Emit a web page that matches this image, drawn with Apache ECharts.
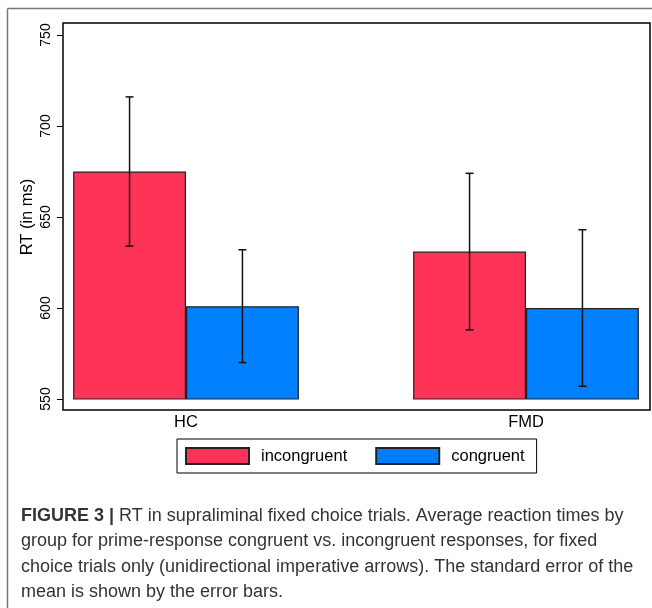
<!DOCTYPE html>
<html>
<head>
<meta charset="utf-8">
<script src="https://cdn.jsdelivr.net/npm/echarts@6/dist/echarts.min.js"></script>
<style>
html,body{margin:0;padding:0;background:#fff;overflow:hidden;width:652px;height:608px;}
#chart{width:700px;height:608px;}
</style>
</head>
<body>
<div id="chart"></div>
<script>
// ---- data ----
var categories = ['HC', 'FMD'];
var seriesNames = ['incongruent', 'congruent'];
var incongruentMean = [675, 631];
var incongruentSE = [41, 43];
var congruentMean = [601, 600];
var congruentSE = [31, 43];
var yTicks = { min: 550, max: 750, interval: 50 };
var caption = [
  'RT in supraliminal fixed choice trials. Average reaction times by',
  'group for prime-response congruent vs. incongruent responses, for fixed',
  'choice trials only (unidirectional imperative arrows). The standard error of the',
  'mean is shown by the error bars.'
];
var captionLabel = 'FIGURE 3 |';

var colors = ['#FF3358', '#0080FF'];
var FONT = 'Liberation Sans, Arial, sans-serif';
var BAR_FRAC = 0.332;

function errorSeries(means, ses, sign) {
  var data = means.map(function (m, i) { return [i, m, ses[i]]; });
  return {
    type: 'custom',
    xAxisIndex: 0, yAxisIndex: 0,
    z: 10,
    silent: true,
    data: data,
    encode: { x: 0, y: 1 },
    renderItem: function (params, api) {
      var ci = api.value(0), m = api.value(1), se = api.value(2);
      var band = api.size([1, 0])[0];
      var off = sign * band * BAR_FRAC / 2;
      var top = api.coord([ci, m + se]);
      var bot = api.coord([ci, m - se]);
      var x = top[0] + off;
      var cap = 4;
      var st = { stroke: '#111', lineWidth: 1.5 };
      return {
        type: 'group',
        children: [
          { type: 'line', shape: { x1: x, y1: top[1], x2: x, y2: bot[1] }, style: st },
          { type: 'line', shape: { x1: x - cap, y1: top[1], x2: x + cap, y2: top[1] }, style: st },
          { type: 'line', shape: { x1: x - cap, y1: bot[1], x2: x + cap, y2: bot[1] }, style: st }
        ]
      };
    }
  };
}

var chart = echarts.init(document.getElementById('chart'), null, { renderer: 'canvas' });
chart.setOption({
  animation: false,
  backgroundColor: '#fff',
  title: {
    left: 16, top: 498,
    text: '{b|' + captionLabel + '} ' + caption.join('\n'),
    textStyle: {
      fontFamily: 'Liberation Sans Narrow, Arial Narrow, Liberation Sans, sans-serif',
      fontSize: 18, fontWeight: 'normal', color: '#333', lineHeight: 25.5,
      rich: {
        b: { fontFamily: 'Liberation Sans Narrow, Arial Narrow, Liberation Sans, sans-serif', fontSize: 18, fontWeight: 'bold', color: '#333', lineHeight: 25.5 }
      }
    }
  },
  graphic: [
    { type: 'line', shape: { x1: 7.5, y1: 8.5, x2: 700, y2: 8.5 }, style: { stroke: '#777', lineWidth: 1.5 } },
    { type: 'line', shape: { x1: 7.5, y1: 8.5, x2: 7.5, y2: 608 }, style: { stroke: '#777', lineWidth: 1.5 } }
  ],
  legend: {
    data: seriesNames,
    left: 177, top: 439,
    orient: 'horizontal',
    itemWidth: 63, itemHeight: 16, itemGap: 28,
    padding: [8, 12, 8, 8],
    borderColor: '#000', borderWidth: 1,
    icon: 'rect',
    textStyle: { fontFamily: FONT, fontSize: 16.5, color: '#000', padding: [0, 0, 0, 7] }
  },
  grid: [
    { left: 16, top: 35, width: 680, height: 364, containLabel: false },
    { left: 63, top: 23, width: 587, height: 387, show: true, borderColor: '#000', borderWidth: 1.5, backgroundColor: 'transparent' }
  ],
  xAxis: [
    {
      gridIndex: 0, type: 'category', data: categories,
      axisLine: { show: false }, axisTick: { show: false },
      axisLabel: { fontFamily: FONT, fontSize: 16.5, color: '#000', margin: 15 }
    },
    { gridIndex: 1, type: 'value', show: false }
  ],
  yAxis: [
    {
      gridIndex: 0, type: 'value', min: yTicks.min, max: yTicks.max, interval: yTicks.interval,
      offset: -47,
      name: 'RT (in ms)', nameLocation: 'middle', nameGap: 27, nameRotate: 90,
      nameMoveOverlap: false,
      nameTextStyle: { fontFamily: FONT, fontSize: 16.5, color: '#000' },
      axisLine: { show: false },
      axisTick: { show: true, length: 6, lineStyle: { color: '#000', width: 1 } },
      splitLine: { show: false },
      axisLabel: { rotate: 90, fontFamily: FONT, fontSize: 14, color: '#000', margin: 10 }
    },
    { gridIndex: 1, type: 'value', show: false }
  ],
  series: [
    {
      name: seriesNames[0], type: 'bar', xAxisIndex: 0, yAxisIndex: 0,
      data: incongruentMean, barWidth: (BAR_FRAC * 100) + '%', barGap: '0%',
      itemStyle: { color: colors[0], borderColor: '#222', borderWidth: 1.2 }
    },
    {
      name: seriesNames[1], type: 'bar', xAxisIndex: 0, yAxisIndex: 0,
      data: congruentMean, barWidth: (BAR_FRAC * 100) + '%', barGap: '0%',
      itemStyle: { color: colors[1], borderColor: '#222', borderWidth: 1.2 }
    },
    errorSeries(incongruentMean, incongruentSE, -1),
    errorSeries(congruentMean, congruentSE, 1)
  ]
});
</script>
</body>
</html>
